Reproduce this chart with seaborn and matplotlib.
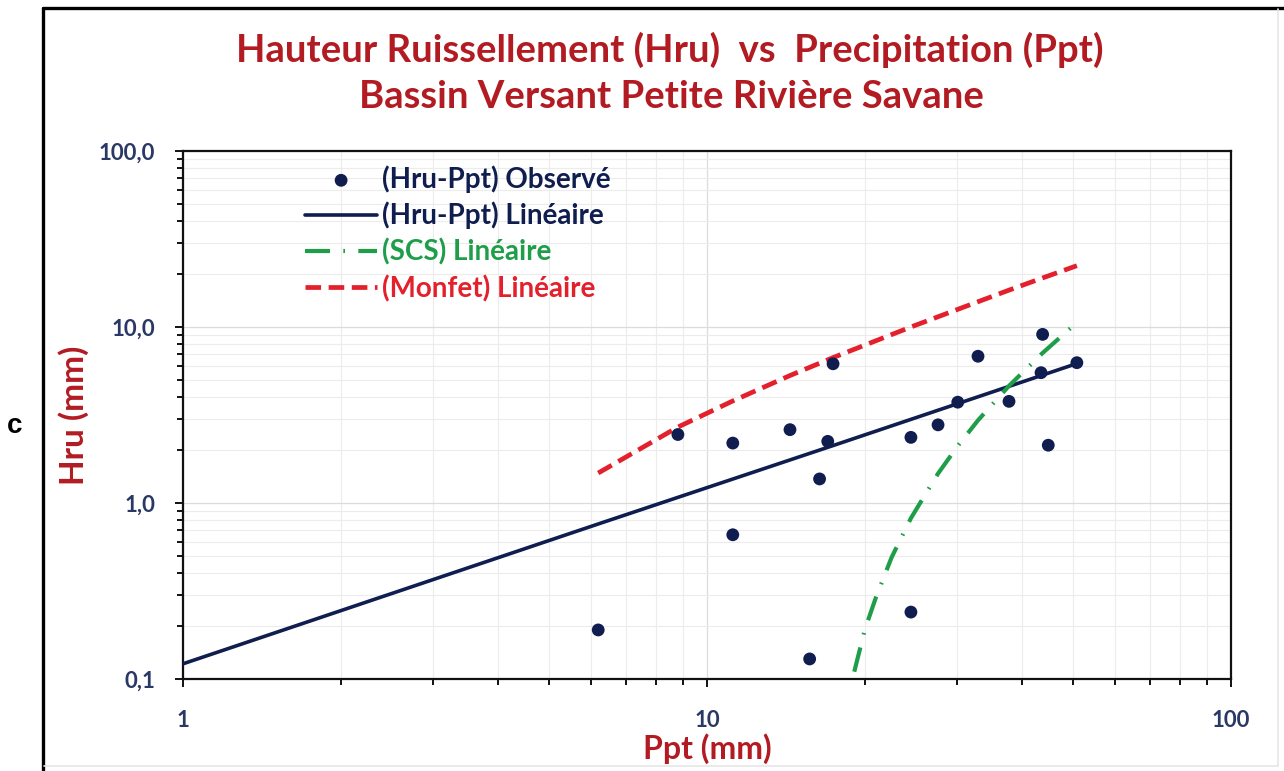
import numpy as np
import pandas as pd
import seaborn as sns
import matplotlib.pyplot as plt
from matplotlib.lines import Line2D
from matplotlib.ticker import LogLocator, FuncFormatter, NullFormatter

# Observed runoff depth vs precipitation (mm)
ppt_obs = [6.2, 8.8, 11.2, 11.2, 14.4, 15.7, 16.4, 17.0, 17.4, 24.5,
           24.5, 27.6, 30.1, 32.9, 37.7, 43.4, 43.7, 44.8, 50.8]
hru_obs = [0.19, 2.45, 2.19, 0.66, 2.61, 0.13, 1.37, 2.24, 6.18, 2.36,
           0.24, 2.78, 3.74, 6.82, 3.78, 5.50, 9.08, 2.13, 6.27]

# Linear Hru-Ppt relation
ppt_lin = [1.0, 6.2, 17.4, 50.8]
hru_lin = [0.122, 0.76, 2.12, 6.2]

# SCS model
ppt_scs = [19.1, 20.0, 21.0, 22.5, 24.5, 27.6, 30.1, 32.9, 37.7, 43.7, 50.8]
hru_scs = [0.11, 0.19, 0.29, 0.49, 0.82, 1.47, 2.11, 2.95, 4.63, 7.12, 10.6]

# Monfet model
ppt_mon = [6.2, 8.8, 11.2, 14.4, 17.4, 24.5, 30.1, 37.7, 43.7, 50.8]
hru_mon = [1.48, 2.70, 3.80, 5.30, 6.70, 10.0, 12.6, 16.2, 19.0, 22.3]

labels = ["(Hru-Ppt) Observé", "(Hru-Ppt) Linéaire", "(SCS) Linéaire", "(Monfet) Linéaire"]
title_lines = ["Hauteur Ruissellement (Hru)  vs  Precipitation (Ppt)",
               "Bassin Versant Petite Rivière Savane"]

navy = "#0f1d4f"
tick_navy = "#2a3866"
green = "#1e9e48"
red = "#e3202c"
dark_red = "#b31b22"

sns.set_theme(style="white")
plt.rcParams['font.family'] = ['Lato', 'DejaVu Sans']

W, H = 1284, 771
fig = plt.figure(figsize=(W / 100, H / 100), dpi=100)
fig.patch.set_facecolor("white")
ax = fig.add_axes([183 / W, 1 - 679 / H, (1231 - 183) / W, (679 - 151) / H])

obs = pd.DataFrame({"ppt": ppt_obs, "hru": hru_obs})
lin = pd.DataFrame({"ppt": ppt_lin, "hru": hru_lin})
scs = pd.DataFrame({"ppt": ppt_scs, "hru": hru_scs})
mon = pd.DataFrame({"ppt": ppt_mon, "hru": hru_mon})

sns.lineplot(data=lin, x="ppt", y="hru", ax=ax, color=navy, linewidth=2.6,
             sort=False, estimator=None, label=labels[1], zorder=3)
sns.lineplot(data=scs, x="ppt", y="hru", ax=ax, color=green, linewidth=3.0,
             sort=False, estimator=None, label=labels[2], zorder=3,
             linestyle=(0, (6, 3.2, 0.4, 3.2)))
sns.lineplot(data=mon, x="ppt", y="hru", ax=ax, color=red, linewidth=3.4,
             sort=False, estimator=None, label=labels[3], zorder=3,
             linestyle=(0, (3.3, 1.6)))
sns.scatterplot(data=obs, x="ppt", y="hru", ax=ax, color=navy, s=85,
                edgecolor="none", label=labels[0], zorder=4)

ax.set_xscale("log")
ax.set_yscale("log")
ax.set_xlim(1, 100)
ax.set_ylim(0.1, 100)

for axis in (ax.xaxis, ax.yaxis):
    axis.set_major_locator(LogLocator(base=10))
    axis.set_minor_locator(LogLocator(base=10, subs=np.arange(2, 10)))
    axis.set_minor_formatter(NullFormatter())
ax.xaxis.set_major_formatter(FuncFormatter(lambda v, p: f"{v:g}"))
ax.yaxis.set_major_formatter(FuncFormatter(lambda v, p: f"{v:.1f}".replace(".", ",")))

ax.grid(which="major", color="#dcdcdc", linewidth=0.9)
ax.grid(which="minor", color="#ececec", linewidth=0.8)
ax.set_axisbelow(True)

for s in ax.spines.values():
    s.set_color("#111111")
    s.set_linewidth(1.6)
    s.set_visible(True)

ax.tick_params(which="both", direction="out", color="#111111", width=1.4,
               bottom=True, left=True, top=False, right=False)
ax.tick_params(which="major", length=6)
ax.tick_params(which="minor", length=4.5)
ax.tick_params(axis="x", which="major", pad=16, labelsize=16, labelcolor=tick_navy)
ax.tick_params(axis="y", which="major", pad=14, labelsize=16, labelcolor=tick_navy)
for t in ax.get_xticklabels() + ax.get_yticklabels():
    t.set_fontweight("bold")

ax.set_xlabel("Ppt (mm)", fontsize=23, fontweight="bold", color=dark_red, va="center")
ax.xaxis.set_label_coords(0.5, -0.132)
ax.set_ylabel("Hru (mm)", fontsize=24, fontweight="bold", color=dark_red, va="center")
ax.yaxis.set_label_coords(-0.104, 0.5)

# Legend in the requested order, colored entries, no frame
handles, labs = ax.get_legend_handles_labels()
order = [labs.index(l) for l in labels]
leg = ax.legend([handles[i] for i in order], [labs[i] for i in order],
                loc="upper left", bbox_to_anchor=(305 / W, 1 - 165 / H),
                bbox_transform=fig.transFigure, frameon=False,
                prop={"family": ["Lato", "DejaVu Sans"], "weight": "bold", "size": 20},
                handlelength=2.6, handletextpad=0.18, labelspacing=0.33,
                borderpad=0, borderaxespad=0, markerscale=1.0)
for txt, c in zip(leg.get_texts(), [navy, navy, green, red]):
    txt.set_color(c)

# Titles
fig.text(670 / W, 1 - 50 / H, title_lines[0], ha="center", va="center",
         fontsize=27.5, fontweight="bold", color=dark_red)
fig.text(671 / W, 1 - 97 / H, title_lines[1], ha="center", va="center",
         fontsize=27.5, fontweight="bold", color=dark_red)

# Panel letter
fig.text(15 / W, 1 - 426 / H, "c", ha="center", va="center", fontsize=20,
         fontweight="bold", family="Liberation Sans", color="black")

# Panel frame
fig.add_artist(Line2D([43 / W, 43 / W], [0, 1 - 8 / H], transform=fig.transFigure,
                      color="black", linewidth=2.4))
fig.add_artist(Line2D([43 / W, 1], [1 - 8 / H, 1 - 8 / H], transform=fig.transFigure,
                      color="black", linewidth=2.4))
fig.add_artist(Line2D([1278 / W, 1278 / W], [1 - 766 / H, 1 - 9 / H], transform=fig.transFigure,
                      color="#e6e6e6", linewidth=1.2))
fig.add_artist(Line2D([44 / W, 1278 / W], [1 - 766 / H, 1 - 766 / H], transform=fig.transFigure,
                      color="#e6e6e6", linewidth=1.2))

fig.savefig("out.png", dpi=100, facecolor="white")
